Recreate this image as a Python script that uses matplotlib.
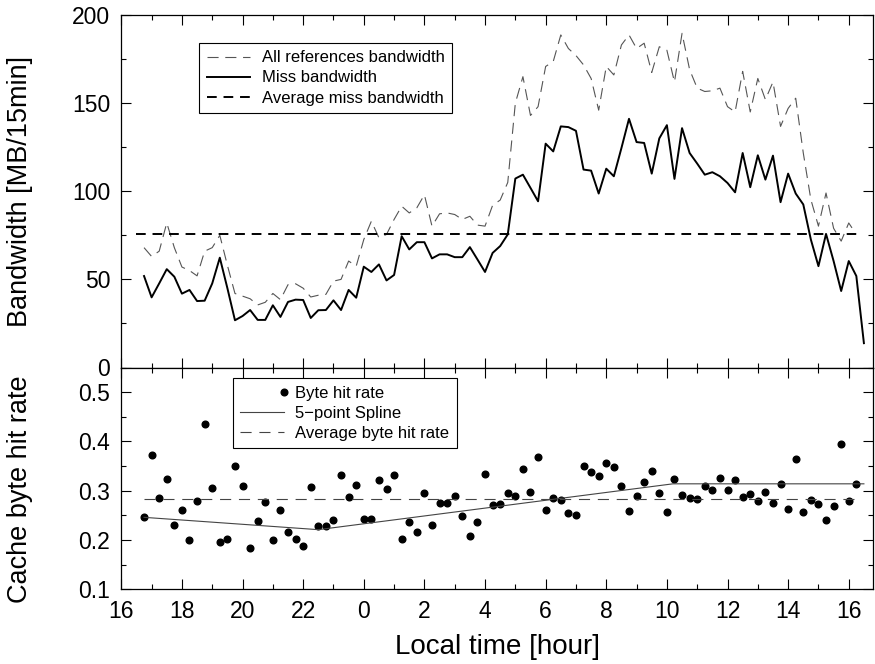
import matplotlib.pyplot as plt
import numpy as np
from matplotlib.legend_handler import HandlerLine2D
from matplotlib.lines import Line2D
from matplotlib.ticker import MultipleLocator

# sample times: every 15 min from 16:45 (hours counted past midnight of day 1)
times = 16.75 + 0.25 * np.arange(96)
hour_ticks = np.arange(16, 41, 2)
hour_labels = ['16', '18', '20', '22', '0', '2', '4', '6', '8', '10', '12', '14', '16']

miss_bw = [51.9, 39.8, 47.7, 55.8, 51.5, 41.9, 44.0, 37.7, 37.9, 47.7,
           62.3, 45.0, 26.8, 29.2, 32.6, 27.0, 27.0, 35.3, 28.7, 37.2,
           38.5, 38.3, 28.1, 32.5, 32.6, 38.1, 32.6, 44.0, 39.6, 57.2,
           54.2, 58.5, 49.4, 52.5, 74.5, 67.0, 71.1, 71.1, 61.9, 64.2,
           64.2, 62.6, 62.6, 68.3, 61.3, 54.2, 65.0, 68.9, 75.5, 107.2,
           109.4, 101.9, 94.3, 127.0, 122.6, 136.8, 136.4, 134.3, 112.3, 111.7,
           98.7, 112.8, 108.5, 124.5, 141.1, 127.9, 127.4, 110.0, 130.0, 137.5,
           107.0, 135.8, 121.7, 115.7, 109.4, 110.8, 108.5, 104.7, 99.4, 121.7,
           102.3, 120.4, 106.6, 120.2, 93.8, 110.0, 98.7, 92.5, 72.6, 57.5,
           75.8, 60.4, 43.4, 60.4, 51.9, 13.8]

all_refs_bw = [68, 63, 66, 82, 68, 57, 55, 52, 66, 68,
               75, 58, 42, 40.5, 39, 35.5, 37, 42, 38.5, 47,
               47.5, 45, 40, 41, 41.5, 49, 50, 60.4, 57.5, 72.6,
               83, 73.6, 75.5, 84, 91.5, 87.7, 90.6, 98, 80.2, 87.2,
               87.7, 86.8, 84, 85.8, 80.8, 80.2, 92, 95, 105, 150,
               165, 143, 148, 170.8, 173.6, 188.7, 181, 177, 171.7, 164,
               146, 170.8, 166, 183, 188.7, 181, 184, 167.4, 182, 180,
               162, 189.6, 169, 158.5, 156.6, 157, 158.5, 148, 145, 168,
               145, 164, 152, 162, 136.8, 147, 152.8, 121.7, 95.3, 80.2,
               99, 79, 71.7, 82, 75.5]

avg_miss_bw = 76.0

byte_hit_rate = [0.246, 0.372, 0.286, 0.324, 0.231, 0.260, 0.200, 0.280, 0.435, 0.305,
                 0.195, 0.202, 0.351, 0.310, 0.184, 0.239, 0.278, 0.201, 0.260, 0.216,
                 0.202, 0.187, 0.307, 0.229, 0.229, 0.240, 0.332, 0.288, 0.311, 0.242,
                 0.242, 0.322, 0.304, 0.332, 0.202, 0.236, 0.216, 0.295, 0.231, 0.275,
                 0.275, 0.290, 0.249, 0.209, 0.236, 0.334, 0.271, 0.273, 0.295, 0.290,
                 0.344, 0.298, 0.368, 0.261, 0.286, 0.281, 0.254, 0.250, 0.351, 0.337,
                 0.329, 0.356, 0.348, 0.310, 0.258, 0.290, 0.317, 0.339, 0.296, 0.257,
                 0.324, 0.291, 0.285, 0.284, 0.309, 0.302, 0.325, 0.301, 0.321, 0.288,
                 0.293, 0.280, 0.297, 0.275, 0.314, 0.263, 0.365, 0.256, 0.281, 0.273,
                 0.240, 0.268, 0.395, 0.279, 0.314]

spline_times = [16.75, 22.5, 28.35, 34.2, 40.5]
spline_rate = [0.246, 0.221, 0.2675, 0.314, 0.314]
avg_byte_hit_rate = 0.283


class RightDotHandler(HandlerLine2D):
    # put the legend dot at the right end of the sample, like the original
    def create_artists(self, *args, **kwargs):
        artists = super().create_artists(*args, **kwargs)
        artists[0].set_markevery([2])
        return artists


plt.rcParams['font.family'] = ['Liberation Sans', 'DejaVu Sans']

fig = plt.figure(figsize=(8.75, 6.64), dpi=100)
W, H = 875, 664
left, right = 121.3 / W, 873 / W
ax1 = fig.add_axes([left, 1 - 367.5 / H, right - left, (367.5 - 15) / H])
ax2 = fig.add_axes([left, 1 - 589.3 / H, right - left, (589.3 - 367.5) / H], sharex=ax1)

n_ref = len(all_refs_bw)
n_hit = len(byte_hit_rate)

# --- top: bandwidth
ax1.plot(times[:n_ref], all_refs_bw, color='#555555', lw=0.8, ls=(0, (10, 6)),
         label='All references bandwidth')
ax1.plot(times, miss_bw, color='black', lw=1.4, label='Miss bandwidth')
ax1.plot([times[0] - 0.25, times[n_ref - 1]], [avg_miss_bw, avg_miss_bw], color='black',
         lw=1.4, ls=(0, (5, 3.5)), label='Average miss bandwidth')

ax1.set_xlim(16, 40.8)
ax1.set_ylim(0, 200)
ax1.yaxis.set_major_locator(MultipleLocator(50))
ax1.yaxis.set_minor_locator(MultipleLocator(25))
ax1.set_ylabel('Bandwidth [MB/15min]', fontsize=19.5)
ax1.yaxis.set_label_coords(-0.1175, 0.5)

leg1 = ax1.legend(loc='upper left', bbox_to_anchor=(199 / W, 1 - 43 / H),
                  bbox_transform=fig.transFigure, fontsize=12, fancybox=False,
                  edgecolor='black', framealpha=1, borderaxespad=0, borderpad=0.45,
                  handlelength=2.6, handletextpad=0.7, labelspacing=0.3)
leg1.get_frame().set_linewidth(0.8)

# --- bottom: byte hit rate
ax2.plot(times[:n_hit], byte_hit_rate, 'o', color='black', ms=4.8)
ax2.plot(spline_times, spline_rate, color='#444444', lw=0.8)
ax2.plot([times[0], times[n_hit - 1]], [avg_byte_hit_rate, avg_byte_hit_rate],
         color='#444444', lw=0.8, ls=(0, (10, 7)))

ax2.set_ylim(0.1, 0.55)
ax2.yaxis.set_major_locator(MultipleLocator(0.1))
ax2.yaxis.set_minor_locator(MultipleLocator(0.05))
ax2.set_ylabel('Cache byte hit rate', fontsize=19.5)
ax2.yaxis.set_label_coords(-0.1175, 0.45)
ax2.set_xlabel('Local time [hour]', fontsize=20)
ax2.xaxis.set_label_coords(0.5, -0.2)

ax2.set_xticks(hour_ticks)
ax2.set_xticklabels(hour_labels)
ax2.xaxis.set_minor_locator(MultipleLocator(1))

dot = Line2D([], [], ls='none', marker='o', color='black', ms=4.8)
spl = Line2D([], [], color='#444444', lw=0.8)
avg = Line2D([], [], color='#444444', lw=0.8, ls=(0, (10, 7)))
leg2 = ax2.legend([dot, spl, avg], ['Byte hit rate', '5\u2212point Spline', 'Average byte hit rate'],
                  handler_map={dot: RightDotHandler()}, numpoints=1,
                  loc='upper left', bbox_to_anchor=(232.7 / W, 1 - 378.3 / H),
                  bbox_transform=fig.transFigure, fontsize=12, fancybox=False,
                  edgecolor='black', framealpha=1, borderaxespad=0, borderpad=0.45,
                  handlelength=2.6, handletextpad=0.7, labelspacing=0.3)
leg2.get_frame().set_linewidth(0.8)

for ax in (ax1, ax2):
    ax.tick_params(which='both', direction='in', top=True, right=True, labelsize=16.5, pad=8)
    ax.tick_params(which='major', length=7, width=0.8)
    ax.tick_params(which='minor', length=3.5, width=0.8)
    for s in ax.spines.values():
        s.set_linewidth(0.9)
ax1.tick_params(labelbottom=False)

fig.savefig('out.png', dpi=100)
